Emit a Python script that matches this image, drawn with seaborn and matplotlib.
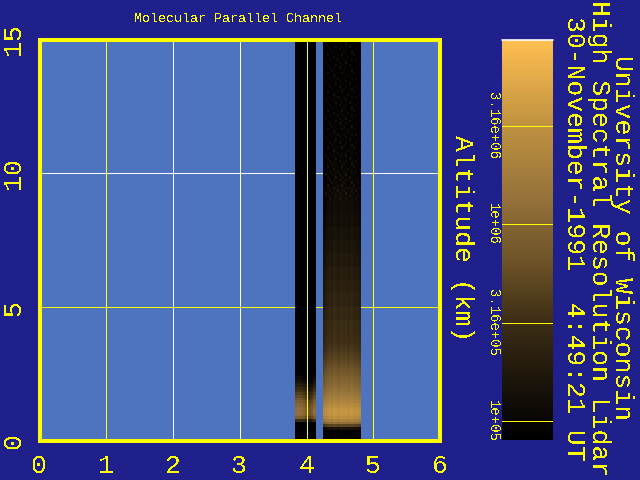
import numpy as np
import pandas as pd
import seaborn as sns
import matplotlib
matplotlib.use("Agg")
import matplotlib.pyplot as plt
from matplotlib.colors import LinearSegmentedColormap, LogNorm
from matplotlib.ticker import NullLocator

sns.set_style("white")
plt.rcParams['font.family'] = ['Liberation Mono', 'DejaVu Sans Mono']
plt.rcParams['text.antialiased'] = False

NAVY = '#20208c'
BLUE = '#4e74c0'
YELLOW = '#ffff00'

left_strip_km = [3.825, 4.14]
right_strip_km = [4.245, 4.815]

right_low = [8e4, 8e4, 8e4, 8e4, 1.5e5, 5e5, 1.2e6, 2.0e6, 2.8e6, 3.3e6,
             3.5e6, 3.3e6, 2.9e6, 2.5e6, 2.15e6, 1.9e6, 1.7e6, 1.5e6, 1.35e6, 1.2e6,
             1.1e6, 1.0e6, 9.2e5, 8.5e5, 7.8e5, 7.2e5, 6.6e5, 6.1e5, 5.6e5, 5.2e5,
             4.8e5, 4.5e5, 4.2e5, 3.9e5, 3.7e5, 3.5e5, 3.3e5, 3.2e5, 3.1e5, 3.0e5]
right_high = [2.9e5, 2.6e5, 2.35e5, 2.15e5, 1.95e5, 1.75e5, 1.6e5, 1.45e5, 1.3e5, 1.2e5, 1.1e5,
              1.02e5, 9.6e4, 9.2e4, 9e4, 8.9e4, 8.8e4, 8.7e4, 8.6e4, 8.5e4, 8.4e4, 8.4e4]
right_columns = [0.75, 0.85, 0.95, 1.0, 0.95, 1.08, 1.05, 0.95, 1.0, 1.08,
                 1.0, 1.05, 0.95, 1.0, 1.05, 0.95, 0.95, 0.9, 0.85]
speckle = [
    [1.0, 1.0, 1.3, 1.0, 1.0, 1.0, 1.4, 1.0, 1.0, 1.1, 1.0, 1.0, 1.0, 1.5, 1.0, 1.0, 1.0, 1.2, 1.0],
    [1.0, 1.5, 1.0, 1.0, 1.1, 1.0, 1.0, 1.0, 1.3, 1.0, 1.0, 1.6, 1.0, 1.0, 1.0, 1.1, 1.0, 1.0, 1.0],
    [1.0, 1.0, 1.0, 1.2, 1.0, 1.0, 1.0, 1.6, 1.0, 1.0, 1.2, 1.0, 1.0, 1.0, 1.3, 1.0, 1.4, 1.0, 1.0],
    [1.2, 1.0, 1.0, 1.0, 1.0, 1.5, 1.0, 1.0, 1.0, 1.0, 1.0, 1.0, 1.4, 1.0, 1.0, 1.0, 1.0, 1.0, 1.3],
    [1.0, 1.0, 1.6, 1.0, 1.0, 1.0, 1.0, 1.2, 1.0, 1.5, 1.0, 1.0, 1.0, 1.1, 1.0, 1.5, 1.0, 1.0, 1.0],
    [1.0, 1.1, 1.0, 1.0, 1.4, 1.0, 1.0, 1.0, 1.0, 1.0, 1.3, 1.0, 1.0, 1.0, 1.6, 1.0, 1.0, 1.2, 1.0],
    [1.0, 1.0, 1.0, 1.3, 1.0, 1.0, 1.0, 1.0, 1.5, 1.0, 1.0, 1.2, 1.0, 1.0, 1.0, 1.0, 1.3, 1.0, 1.0],
]
speckle_start_row = 90

left_low = [8e4, 8e4, 8e4, 8e4, 8e4, 8e4, 8e4, 3e5, 8e5, 1.1e6,
            1.25e6, 1.2e6, 1.1e6, 9.5e5, 8e5, 6.5e5, 5.2e5, 4.2e5, 3.4e5, 2.7e5,
            2.1e5, 1.7e5, 1.35e5, 1.1e5, 9.5e4, 8.5e4, 8e4, 8e4, 8e4, 8e4,
            8e4, 8e4, 8e4, 8e4, 8e4, 8e4, 8e4, 8e4, 8e4, 8e4]
left_high_level = 8e4
left_columns = [1.0, 1.05, 1.0, 0.85, 0.7, 0.55, 0.65, 1.0]

cbar_limits = [8.0e4, 8.6e6]
cbar_ticks = [1e5, 3.16e5, 1e6, 3.16e6]
cbar_labels = ['1e+05', '3.16e+05', '1e+06', '3.16e+06']
cmap_stops = [(0.0, '#000000'), (0.15, '#1c150a'), (0.30, '#3f2f16'), (0.45, '#6e5428'),
              (0.60, '#94713a'), (0.80, '#c29441'), (1.0, '#ffbe50')]

x_ticks = [0, 1, 2, 3, 4, 5, 6]
y_ticks = [0, 5, 10, 15]
vline_colors = {1: YELLOW, 2: 'white', 3: 'white', 4: YELLOW, 5: YELLOW}
hline_colors = {5: YELLOW, 10: 'white'}

title_text = 'Molecular Parallel Channel'
axis_title = 'Altitude (km)'
site_lines = ['University of Wisconsin', 'High Spectral Resolution Lidar',
              '30-November-1991  4:49:21 UT']

W, H = 640, 480
fig = plt.figure(figsize=(6.4, 4.8), dpi=100, facecolor=NAVY)
def px_axes(x0, y0, x1, y1):
    return fig.add_axes([x0 / W, 1 - y1 / H, (x1 - x0) / W, (y1 - y0) / H])

ax = px_axes(39.5, 39.5, 440, 440.5)
ax.set_facecolor(BLUE)
ax.set_xlim(0, 6)
ax.set_ylim(0, 15)

cmap = LinearSegmentedColormap.from_list('gold', cmap_stops)
norm = LogNorm(*cbar_limits)

high = np.repeat(right_high, 5)
right_profile = np.concatenate([right_low, high])
right_matrix = np.outer(right_profile, right_columns)
spk = np.tile(np.array(speckle), (len(right_profile) // len(speckle) + 1, 1))[:len(right_profile)]
spk[:speckle_start_row] = 1.0
right_matrix = np.maximum(right_matrix * spk, cbar_limits[0])
left_profile = np.concatenate([left_low, np.full(110, left_high_level)])
left_matrix = np.maximum(np.outer(left_profile, left_columns), cbar_limits[0])
left_matrix[:7] = cbar_limits[0]

cax = px_axes(502, 40, 553, 440)
strips = ((left_strip_km, left_matrix, False), (right_strip_km, right_matrix, True))
for (x0, x1), matrix, has_cbar in strips:
    inset = ax.inset_axes([x0, 0, x1 - x0, 15], transform=ax.transData)
    inset.set_zorder(2)
    sns.heatmap(pd.DataFrame(matrix), ax=inset, cmap=cmap, norm=norm, cbar=has_cbar,
                cbar_ax=cax if has_cbar else None,
                xticklabels=False, yticklabels=False, rasterized=True)
    inset.set_ylim(0, matrix.shape[0])
    inset.set_xlabel('')
    inset.set_ylabel('')
    inset.axis('off')
    if has_cbar:
        cbar = inset.collections[0].colorbar

for x, c in vline_colors.items():
    ax.axvline(x, color=c, lw=0.72, zorder=3, antialiased=False)
for y, c in hline_colors.items():
    ax.axhline(y, color=c, lw=0.72, zorder=1, antialiased=False)

for s in ax.spines.values():
    s.set_visible(True)
    s.set_color(YELLOW)
    s.set_linewidth(2.88)
    s.set_zorder(6)

ax.set_xticks(x_ticks)
ax.set_yticks(y_ticks)
ax.tick_params(length=0, labelcolor=YELLOW)
ax.set_xticklabels([str(v) for v in x_ticks], fontsize=19)
ax.set_yticklabels([str(v) for v in y_ticks], fontsize=19, rotation=90, va='center')
ax.tick_params(axis='x', pad=9.5)
ax.tick_params(axis='y', pad=10)

cbar.outline.set_visible(False)
cbar.set_ticks(cbar_ticks, labels=cbar_labels)
cax.yaxis.set_minor_locator(NullLocator())
cax.yaxis.set_ticks_position('left')
cax.tick_params(axis='y', length=0, pad=1.5, labelcolor=YELLOW, labelsize=10)
for lab in cax.get_yticklabels():
    lab.set_rotation(-90)
    lab.set_va('center')
for t in cbar_ticks:
    cax.axhline(t, color=YELLOW, lw=0.72, antialiased=False, zorder=5)
cax.axhline(cbar_limits[1], color='white', lw=1.2, zorder=5, clip_on=False)

fig.text(238 / W, 1 - 19 / H, title_text, color=YELLOW, fontsize=9.5, ha='center', va='center')
for x, y, s in zip([455, 615, 592, 567], [238, 238, 238, 238.5], [axis_title] + site_lines):
    fig.text(x / W, 1 - y / H, s, color=YELLOW, fontsize=19, rotation=-90,
             ha='center', va='baseline', rotation_mode='anchor')

fig.savefig('out.png', dpi=100, facecolor=NAVY)
